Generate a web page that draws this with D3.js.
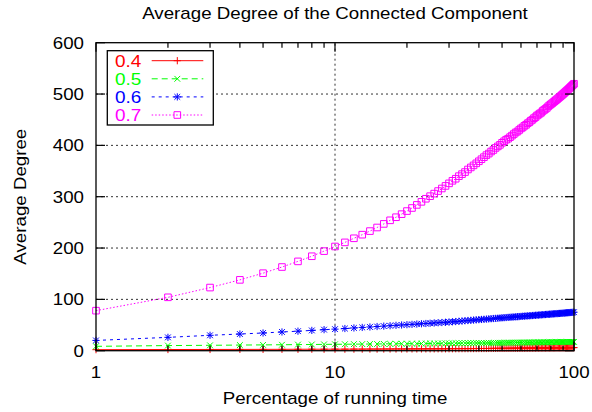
<!DOCTYPE html>
<html>
<head>
<meta charset="utf-8">
<script src="https://cdn.jsdelivr.net/npm/d3@7"></script>
<style>
    body { margin: 0; background: #fff; }
    svg { display: block; font-family: "Liberation Sans", Arial, Helvetica, sans-serif; }
</style>
</head>
<body>
<svg id="chart" width="592" height="412"></svg>
<script>
const width = 592;
const height = 412;
const margin = { top: 42.7, right: 18, bottom: 61.3, left: 96 };

// percentage of running time (x, log scale)
const percent = d3.range(1, 101);

const seriesNames = ["0.4", "0.5", "0.6", "0.7"];
const seriesColors = ["#ff0000", "#00ff00", "#0000ff", "#ff00ff"];

const deg04 = [
    2.0, 2.3, 2.4, 2.5, 2.6, 2.7, 2.8, 2.9, 2.9, 3.0,
    3.0, 3.1, 3.1, 3.2, 3.2, 3.3, 3.3, 3.4, 3.4, 3.4,
    3.5, 3.5, 3.5, 3.6, 3.6, 3.6, 3.7, 3.7, 3.7, 3.8,
    3.8, 3.9, 3.9, 4.0, 4.0, 4.0, 4.1, 4.1, 4.2, 4.2,
    4.3, 4.3, 4.3, 4.4, 4.4, 4.5, 4.5, 4.5, 4.6, 4.6,
    4.6, 4.7, 4.7, 4.7, 4.8, 4.8, 4.8, 4.9, 4.9, 4.9,
    5.0, 5.0, 5.0, 5.1, 5.1, 5.1, 5.2, 5.2, 5.2, 5.3,
    5.3, 5.3, 5.4, 5.4, 5.4, 5.4, 5.5, 5.5, 5.5, 5.5,
    5.6, 5.6, 5.6, 5.6, 5.7, 5.7, 5.7, 5.7, 5.8, 5.8,
    5.8, 5.8, 5.9, 5.9, 5.9, 5.9, 5.9, 6.0, 6.0, 6.0
];

const deg05 = [
    8.5, 10.0, 10.5, 11.0, 11.3, 11.6, 11.9, 12.1, 12.3, 12.5,
    12.6, 12.8, 12.9, 13.0, 13.1, 13.3, 13.4, 13.5, 13.6, 13.7,
    13.8, 13.8, 13.9, 14.0, 14.1, 14.1, 14.2, 14.3, 14.3, 14.4,
    14.5, 14.5, 14.6, 14.7, 14.7, 14.8, 14.8, 14.9, 14.9, 15.0,
    15.0, 15.1, 15.1, 15.2, 15.2, 15.3, 15.3, 15.4, 15.4, 15.5,
    15.5, 15.6, 15.6, 15.6, 15.7, 15.7, 15.8, 15.8, 15.8, 15.9,
    15.9, 16.0, 16.0, 16.0, 16.1, 16.1, 16.2, 16.2, 16.2, 16.3,
    16.3, 16.3, 16.4, 16.4, 16.4, 16.5, 16.5, 16.5, 16.6, 16.6,
    16.6, 16.7, 16.7, 16.7, 16.8, 16.8, 16.8, 16.9, 16.9, 16.9,
    16.9, 17.0, 17.0, 17.0, 17.0, 17.1, 17.1, 17.1, 17.2, 17.2
];

const deg06 = [
    20.0, 26.0, 30.0, 32.5, 34.5, 36.5, 38.0, 39.5, 41.0, 42.0,
    43.2, 44.3, 45.3, 46.2, 47.1, 47.9, 48.7, 49.4, 50.1, 50.7,
    51.3, 51.9, 52.5, 53.0, 53.5, 54.0, 54.5, 54.9, 55.4, 55.8,
    56.3, 56.8, 57.3, 57.8, 58.4, 58.8, 59.2, 59.7, 60.1, 60.5,
    60.9, 61.2, 61.6, 62.0, 62.3, 62.7, 63.0, 63.3, 63.7, 64.0,
    64.3, 64.6, 64.9, 65.2, 65.5, 65.7, 66.0, 66.3, 66.5, 66.8,
    67.1, 67.3, 67.6, 67.8, 68.0, 68.3, 68.5, 68.7, 69.0, 69.2,
    69.4, 69.6, 69.8, 70.1, 70.3, 70.5, 70.7, 70.9, 71.1, 71.3,
    71.5, 71.7, 71.9, 72.1, 72.3, 72.5, 72.6, 72.8, 73.0, 73.2,
    73.4, 73.6, 73.8, 73.9, 74.1, 74.3, 74.5, 74.6, 74.8, 75.0
];

const deg07 = [
    78, 104, 123, 138, 151, 163, 174, 184, 194, 203,
    211, 219, 226, 233, 240, 247, 254, 260, 266, 272,
    278, 284, 290, 296, 301, 306, 311, 316, 321, 326,
    331, 335, 340, 344, 348, 353, 357, 361, 365, 369,
    373, 377, 381, 384, 388, 391, 395, 398, 401, 405,
    408, 411, 413, 416, 419, 422, 425, 427, 430, 433,
    435, 438, 440, 443, 445, 448, 450, 453, 455, 458,
    460, 462, 464, 467, 469, 471, 473, 476, 478, 480,
    482, 484, 486, 488, 490, 492, 494, 496, 498, 500,
    502, 504, 506, 508, 510, 512, 514, 516, 518, 520
];

const yTicks = [0, 100, 200, 300, 400, 500, 600];
const xTicks = [1, 10, 100];
const xMinorTicks = [2, 3, 4, 5, 6, 7, 8, 9, 20, 30, 40, 50, 60, 70, 80, 90];

const dashes = [null, "6,4", "3,4", "1.5,2"];

// reference font is wider than Liberation Sans, so stretch it sideways
const stretch = 1.17;

function addText(parent, x, y, str, size, anchor, color, rotate) {
    return parent.append("text")
        .attr("transform", `translate(${x},${y})` + (rotate ? " rotate(-90)" : "") + ` scale(${stretch},1)`)
        .attr("text-anchor", anchor)
        .attr("fill", color || "#000")
        .style("font-size", size + "px")
        .text(str);
}

// gnuplot style point shapes, drawn as strokes
function markerPath(kind, s) {
    const p = d3.path();
    if (kind === 0 || kind === 2) {
        p.moveTo(-s, 0); p.lineTo(s, 0);
        p.moveTo(0, -s); p.lineTo(0, s);
    }
    if (kind === 1 || kind === 2) {
        const d = s * 0.8;
        p.moveTo(-d, -d); p.lineTo(d, d);
        p.moveTo(-d, d); p.lineTo(d, -d);
    }
    if (kind === 3) {
        p.rect(-s, -s, 2 * s, 2 * s);
    }
    return p.toString();
}

function drawChart() {
    const svg = d3.select("#chart");
    const x0 = margin.left, x1 = width - margin.right;
    const y0 = height - margin.bottom, y1 = margin.top;

    const x = d3.scaleLog().domain([1, 100]).range([x0, x1]);
    const y = d3.scaleLinear().domain([0, 600]).range([y0, y1]);

    const series = [deg04, deg05, deg06, deg07].map((vals, i) => ({
        name: seriesNames[i],
        color: seriesColors[i],
        values: vals.map((v, j) => ({ p: percent[j], v: v }))
    }));

    // grid
    svg.append("g")
        .selectAll("line")
        .data(yTicks.slice(1, -1))
        .enter().append("line")
        .attr("x1", x0).attr("x2", x1)
        .attr("y1", d => y(d)).attr("y2", d => y(d))
        .attr("stroke", "#333")
        .attr("stroke-width", 1)
        .attr("stroke-dasharray", "2,3");

    svg.append("line")
        .attr("x1", x(10)).attr("x2", x(10))
        .attr("y1", y0).attr("y2", y1)
        .attr("stroke", "#333")
        .attr("stroke-width", 1)
        .attr("stroke-dasharray", "2,3");

    // series
    const line = d3.line()
        .x(d => x(d.p))
        .y(d => y(d.v));

    series.forEach((s, i) => {
        const g = svg.append("g");
        g.append("path")
            .datum(s.values)
            .attr("fill", "none")
            .attr("stroke", s.color)
            .attr("stroke-width", 1)
            .attr("stroke-dasharray", dashes[i])
            .attr("d", line);
        g.selectAll("path.pt")
            .data(s.values)
            .enter().append("path")
            .attr("class", "pt")
            .attr("transform", d => `translate(${x(d.p)},${y(d.v)})`)
            .attr("d", markerPath(i, i === 3 ? 3.3 : 3.6))
            .attr("fill", "none")
            .attr("stroke", s.color)
            .attr("stroke-width", 1);
    });

    // border
    svg.append("rect")
        .attr("x", x0).attr("y", y1)
        .attr("width", x1 - x0).attr("height", y0 - y1)
        .attr("fill", "none")
        .attr("stroke", "#000")
        .attr("stroke-width", 1.3);

    // ticks, inward, mirrored
    const ticks = svg.append("g").attr("stroke", "#000").attr("stroke-width", 1.2);
    yTicks.forEach(t => {
        ticks.append("line").attr("x1", x0).attr("x2", x0 + 9).attr("y1", y(t)).attr("y2", y(t));
        ticks.append("line").attr("x1", x1).attr("x2", x1 - 9).attr("y1", y(t)).attr("y2", y(t));
    });
    xTicks.forEach(t => {
        ticks.append("line").attr("x1", x(t)).attr("x2", x(t)).attr("y1", y0).attr("y2", y0 - 9);
        ticks.append("line").attr("x1", x(t)).attr("x2", x(t)).attr("y1", y1).attr("y2", y1 + 9);
    });
    xMinorTicks.forEach(t => {
        ticks.append("line").attr("x1", x(t)).attr("x2", x(t)).attr("y1", y0).attr("y2", y0 - 5);
        ticks.append("line").attr("x1", x(t)).attr("x2", x(t)).attr("y1", y1).attr("y2", y1 + 5);
    });

    // tick labels
    const labels = svg.append("g");
    yTicks.forEach(t => addText(labels, x0 - 12, y(t) + 6, t, 16, "end"));
    xTicks.forEach(t => addText(labels, x(t), 378, t, 16, "middle"));

    // titles
    addText(svg, 335, 19, "Average Degree of the Connected Component", 16, "middle");
    addText(svg, 335, 404, "Percentage of running time", 16, "middle");
    addText(svg, 26, (y0 + y1) / 2, "Average Degree", 16, "middle", "#000", true);

    // legend
    const legend = svg.append("g");
    legend.append("rect")
        .attr("x", 107.3).attr("y", 50.7)
        .attr("width", 106).attr("height", 74.3)
        .attr("fill", "#fff")
        .attr("stroke", "#000")
        .attr("stroke-width", 1.3);

    series.forEach((s, i) => {
        const ly = 60.7 + i * 18.1;
        addText(legend, 115, ly + 6.3, s.name, 16.2, "start", s.color);
        legend.append("line")
            .attr("x1", 151.7).attr("x2", 203.3)
            .attr("y1", ly).attr("y2", ly)
            .attr("stroke", s.color)
            .attr("stroke-width", 1)
            .attr("stroke-dasharray", dashes[i]);
        legend.append("path")
            .attr("transform", `translate(177.3,${ly})`)
            .attr("d", markerPath(i, i === 3 ? 3.3 : 3.6))
            .attr("fill", "none")
            .attr("stroke", s.color)
            .attr("stroke-width", 1);
    });
}

drawChart();
</script>
</body>
</html>
